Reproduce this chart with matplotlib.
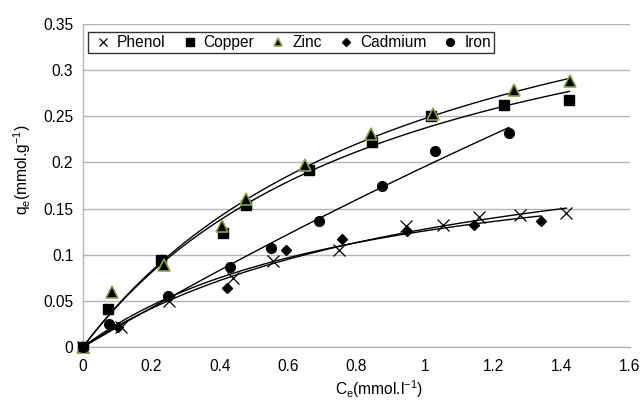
import numpy as np
import matplotlib
matplotlib.use("Agg")
import matplotlib.pyplot as plt
from matplotlib.ticker import FuncFormatter

plt.rcParams['font.family'] = ['Liberation Sans', 'DejaVu Sans']

# ---- data ----
phenol_c = [0, 0.112, 0.253, 0.44, 0.556, 0.75, 0.946, 1.054, 1.159, 1.278, 1.414]
phenol_q = [0, 0.022, 0.050, 0.075, 0.093, 0.105, 0.1315, 0.132, 0.1406, 0.1427, 0.1453]

copper_c = [0, 0.074, 0.229, 0.41, 0.476, 0.66, 0.844, 1.018, 1.23, 1.423]
copper_q = [0, 0.041, 0.0946, 0.123, 0.154, 0.192, 0.222, 0.250, 0.262, 0.268]

zinc_c = [0, 0.085, 0.238, 0.406, 0.476, 0.65, 0.841, 1.025, 1.261, 1.425]
zinc_q = [0, 0.060, 0.089, 0.1315, 0.160, 0.197, 0.2304, 0.252, 0.278, 0.288]

cadmium_c = [0, 0.103, 0.248, 0.42, 0.595, 0.757, 0.948, 1.144, 1.34]
cadmium_q = [0, 0.022, 0.055, 0.064, 0.105, 0.117, 0.126, 0.1326, 0.136]

iron_c = [0, 0.077, 0.248, 0.429, 0.55, 0.69, 0.875, 1.03, 1.246]
iron_q = [0, 0.025, 0.055, 0.087, 0.107, 0.136, 0.174, 0.212, 0.232]

x_ticks = [0, 0.2, 0.4, 0.6, 0.8, 1.0, 1.2, 1.4, 1.6]
y_ticks = [0, 0.05, 0.1, 0.15, 0.2, 0.25, 0.3, 0.35]


def langmuir_fit(c, q):
    c = np.asarray(c, float)
    q = np.asarray(q, float)
    best = None
    for K in np.linspace(0.01, 20, 4000):
        f = K * c / (1 + K * c)
        qm = np.sum(f * q) / np.sum(f * f)
        sse = np.sum((qm * f - q) ** 2)
        if best is None or sse < best[0]:
            best = (sse, K, qm)
    _, K, qm = best
    xs = np.linspace(0, c.max(), 200)
    return xs, qm * K * xs / (1 + K * xs)


fig = plt.figure(figsize=(6.41, 4.01), dpi=100)
AX_L, AX_R, AX_T, AX_B = 83, 630, 24, 347
W, H = AX_R - AX_L, AX_B - AX_T
ax = fig.add_axes([AX_L / 641, 1 - AX_B / 401, W / 641, H / 401])

series = [
    ("Phenol", phenol_c, phenol_q, dict(marker='x', color='black', markersize=8, markeredgewidth=0.9)),
    ("Copper", copper_c, copper_q, dict(marker='s', color='black', markersize=7.6)),
    ("Zinc", zinc_c, zinc_q, dict(marker='^', markerfacecolor='black', markeredgecolor='#8aa34e',
                                  markersize=8, markeredgewidth=1.2)),
    ("Cadmium", cadmium_c, cadmium_q, dict(marker='D', color='black', markersize=5.6)),
    ("Iron", iron_c, iron_q, dict(marker='o', color='black', markersize=7)),
]

for name, c, q, st in series:
    xs, ys = langmuir_fit(c, q)
    ax.plot(xs, ys, color='black', lw=1.0, zorder=2)

handles = []
for name, c, q, st in series:
    h, = ax.plot(c, q, linestyle='none', label=name, zorder=3, clip_on=False, **st)
    handles.append(h)

FS = 11.2
ax.set_xlim(0, 1.6)
ax.set_ylim(0, 0.35)
ax.set_xticks(x_ticks)
ax.set_yticks(y_ticks)
fmt = FuncFormatter(lambda v, p: ('%g' % round(v, 3)))
ax.xaxis.set_major_formatter(fmt)
ax.yaxis.set_major_formatter(fmt)
ax.tick_params(axis='x', length=0, labelsize=FS, pad=8.5, colors='black')
ax.tick_params(axis='y', length=0, labelsize=FS, pad=7, colors='black')
ax.grid(axis='y', color='#b4b4b4', lw=1.0)
ax.set_axisbelow(True)
for s in ['top', 'right']:
    ax.spines[s].set_visible(False)
for s in ['left', 'bottom']:
    ax.spines[s].set_color('#b4b4b4')
    ax.spines[s].set_linewidth(1.0)

ax.set_xlabel(r'C$_\mathregular{e}$(mmol.l$^{\mathregular{-1}}$)', fontsize=FS)
ax.xaxis.set_label_coords((379 - AX_L) / W, -(378 - AX_B) / H)
ax.set_ylabel(r'q$_\mathregular{e}$(mmol.g$^{\mathregular{-1}}$)', fontsize=FS)
ax.yaxis.set_label_coords(-(AX_L - 33) / W, (AX_B - 170) / H)

leg = ax.legend(handles=handles, loc='upper left', bbox_to_anchor=(5 / W, 1 - 8 / H),
                ncol=5, frameon=True, fancybox=False, fontsize=FS, borderaxespad=0,
                handlelength=1.5, handletextpad=0.15, columnspacing=0.8, borderpad=0.2,
                markerscale=0.8)
leg.get_frame().set_edgecolor('black')
leg.get_frame().set_linewidth(1.0)

fig.savefig('out.png', dpi=100)
